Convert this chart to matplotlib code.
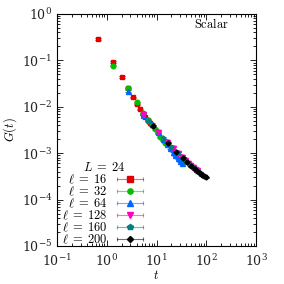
import matplotlib
matplotlib.use("Agg")
import matplotlib.pyplot as plt
from matplotlib.lines import Line2D
from matplotlib.legend_handler import HandlerLine2D, HandlerTuple

plt.rcParams['mathtext.fontset'] = 'cm'
plt.rcParams['font.family'] = 'serif'
plt.rcParams['font.serif'] = ['DejaVu Serif']

labels = [r'$\ell\;=\;16$', r'$\ell\;=\;32$', r'$\ell\;=\;64$', r'$\ell\;=\;128$', r'$\ell\;=\;160$', r'$\ell\;=\;200$']
colors = ['#e00000', '#00c000', '#0066ff', '#ff00c0', '#008080', '#000000']
markers = ['s', 'o', '^', 'v', 'p', 'D']

t16 = [0.667, 1.333, 2.0, 2.667, 3.333, 4.0, 4.667, 5.333, 6.0, 6.667, 7.333, 8.0]
g16 = [0.29, 0.093, 0.044, 0.025, 0.016, 0.0113, 0.0088, 0.0070, 0.0059, 0.0051, 0.0045, 0.0040]
t32 = [1.333, 2.667, 4.0, 5.333, 6.667, 8.0, 9.333, 10.667, 12.0, 13.333, 14.667, 16.0]
g32 = [0.077, 0.026, 0.0125, 0.0072, 0.0052, 0.0041, 0.0033, 0.0027, 0.0022, 0.0019, 0.0017, 0.00155]
t64 = [2.667, 5.333, 8.0, 10.667, 13.333, 16.0, 18.667, 21.333, 24.0, 26.667, 29.333, 32.0]
g64 = [0.022, 0.0068, 0.0042, 0.0028, 0.0020, 0.0016, 0.0013, 0.00108, 0.00090, 0.00078, 0.00068, 0.00062]
t128 = [5.333, 10.667, 16.0, 21.333, 26.667, 32.0, 37.333, 42.667, 48.0, 53.333, 58.667, 64.0]
g128 = [0.0071, 0.0029, 0.00175, 0.00128, 0.00102, 0.00084, 0.00072, 0.00063, 0.00056, 0.00051, 0.00046, 0.00043]
t160 = [6.667, 13.333, 20.0, 26.667, 33.333, 40.0, 46.667, 53.333, 60.0, 66.667, 73.333, 80.0]
g160 = [0.0050, 0.0021, 0.00135, 0.00101, 0.00080, 0.00066, 0.00057, 0.00050, 0.00045, 0.00041, 0.00037, 0.00035]
t200 = [8.333, 16.667, 25.0, 33.333, 41.667, 50.0, 58.333, 66.667, 75.0, 83.333, 91.667, 100.0]
g200 = [0.0039, 0.0017, 0.00107, 0.00080, 0.00064, 0.00053, 0.00046, 0.00041, 0.00037, 0.00034, 0.00032, 0.00030]
rel_err = 0.04

ts = [t16, t32, t64, t128, t160, t200]
gs = [g16, g32, g64, g128, g160, g200]

fig = plt.figure(figsize=(2.84, 2.84), dpi=100)
ax = fig.add_axes([57/284, 1-246/284, 199/284, 232/284])

handles = []
hmap = {}
for t, g, c, m, lab in zip(ts, gs, colors, markers, labels):
    ms = 3.3
    if m in ('^', 'v'):
        ms = 3.6
    if m == 'D':
        ms = 2.6
    ax.errorbar(t, g, yerr=[gi*rel_err for gi in g], fmt=m, color=c, ms=ms,
                ecolor=c, elinewidth=0.6, capsize=2.5, capthick=0.6, zorder=3)
    cap = Line2D([], [], color=c, alpha=0.55, lw=0.8, marker='|', markersize=3, markeredgewidth=0.8)
    mk = Line2D([], [], color=c, ls='none', marker=m, ms=ms + 0.5)
    hmap[cap] = HandlerLine2D(numpoints=2)
    handles.append((cap, mk))

ax.set_xscale('log')
ax.set_yscale('log')
ax.set_xlim(1e-1, 1e3)
ax.set_ylim(1e-5, 1e0)
ax.tick_params(which='both', direction='in', top=True, right=True, labelsize=9, width=0.6,
               labelcolor='#222222')
ax.tick_params(which='major', length=4)
ax.tick_params(which='minor', length=2)
ax.tick_params(axis='x', pad=5)
for s in ax.spines.values():
    s.set_linewidth(0.8)
ax.set_xlabel(r'$t$', fontsize=9, labelpad=0)
ax.set_ylabel(r'$G(t)$', fontsize=9, labelpad=2)
ax.text(0.865, 0.985, r'$\mathrm{Scalar}$', transform=ax.transAxes, ha='right', va='top', fontsize=9)

hmap[tuple] = HandlerTuple(ndivide=1)
leg = ax.legend(handles, labels, loc='lower left', bbox_to_anchor=(-0.02, -0.04), frameon=False,
                markerfirst=False, fontsize=9, title=r'$L\;=\;24$', title_fontsize=9,
                handlelength=2.64, labelspacing=-0.1, handletextpad=0.5, borderpad=0.2,
                handler_map=hmap)

fig.savefig('out.png', dpi=100)
